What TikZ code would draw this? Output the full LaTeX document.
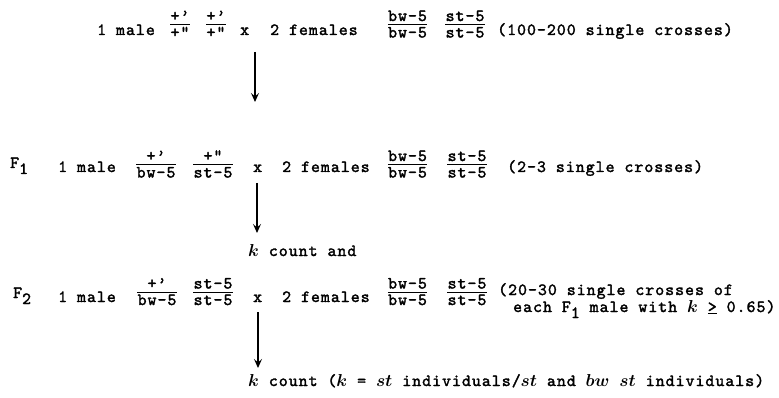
\documentclass[tikz,border=0pt]{standalone}
\usepackage{fontspec}
\setmainfont{lmmono10-regular}[Extension=.otf, LetterSpace=6, FakeBold=2]
\usetikzlibrary{arrows.meta}
\tikzset{
  txt/.style={inner sep=0pt, anchor=base west, font=\fontsize{17}{20}\selectfont\boldmath},
  fr/.style={inner sep=0pt, anchor=base, text height=9pt, text depth=1pt,
    font=\fontsize{17}{20}\selectfont},
  frline/.style={line width=0.9pt},
  flow/.style={line width=1.4pt, -{Stealth[length=9pt,width=8pt,inset=3.5pt]}}
}
\begin{document}
\begin{tikzpicture}[x=1pt,y=-1pt]
\path[use as bounding box] (0,0) rectangle (779,398);
% ---------- Row 1 ----------
\node[txt] (r1male) at (97,35) {1 male};
\node[fr] (r1an) at (180,21) {+'};
\node[fr] (r1ad) at (180,37.5) {+''};
\node[fr] (r1bn) at (216,21) {+'};
\node[fr] (r1bd) at (216,37.5) {+''};
\node[txt] (r1x) at (240,35) {x};
\node[txt] (r1fem) at (270,35) {2 females};
\node[fr] (r1cn) at (407.5,21) {bw-5};
\node[fr] (r1cd) at (407.5,37.5) {bw-5};
\node[fr] (r1dn) at (465,21) {st-5};
\node[fr] (r1dd) at (465,37.5) {st-5};
\node[txt] (r1note) at (497,35) {(100-200 single crosses)};
\foreach \d in {r1ad,r1bd,r1cd,r1dd}
  \draw[frline] (\d.west |- 0,24.5) -- (\d.east |- 0,24.5);
% ---------- Row 2 ----------
\node[txt] (r2gen) at (10,168) {F\raisebox{-6pt}{1}};
\node[txt] (r2male) at (58,172) {1 male};
\node[fr] (r2an) at (156,161) {+'};
\node[fr] (r2ad) at (156,177.5) {bw-5};
\node[fr] (r2bn) at (213,161) {+''};
\node[fr] (r2bd) at (213,177.5) {st-5};
\node[txt] (r2x) at (253,172) {x};
\node[txt] (r2fem) at (282,172) {2 females};
\node[fr] (r2cn) at (407.5,161) {bw-5};
\node[fr] (r2cd) at (407.5,177.5) {bw-5};
\node[fr] (r2dn) at (467,161) {st-5};
\node[fr] (r2dd) at (467,177.5) {st-5};
\node[txt] (r2note) at (507,172) {(2-3 single crosses)};
\foreach \d in {r2ad,r2bd,r2cd,r2dd}
  \draw[frline] (\d.west |- 0,164) -- (\d.east |- 0,164);
\node[txt] (kcount1) at (248,256) {$k$ count and};
% ---------- Row 3 ----------
\node[txt] (r3gen) at (13,298) {F\raisebox{-6pt}{2}};
\node[txt] (r3male) at (58,302) {1 male};
\node[fr] (r3an) at (157,288.5) {+'};
\node[fr] (r3ad) at (157,305) {bw-5};
\node[fr] (r3bn) at (213,288.5) {st-5};
\node[fr] (r3bd) at (213,305) {st-5};
\node[txt] (r3x) at (253,302) {x};
\node[txt] (r3fem) at (282,302) {2 females};
\node[fr] (r3cn) at (407.5,288.5) {bw-5};
\node[fr] (r3cd) at (407.5,305) {bw-5};
\node[fr] (r3dn) at (467,288.5) {st-5};
\node[fr] (r3dd) at (467,305) {st-5};
\node[txt] (r3note) at (498,295) {(20-30 single crosses of};
\node[txt] (r3note2) at (513,312) {each F\raisebox{-6pt}{1} male with $k$ \underline{>} 0.65)};
\foreach \d in {r3ad,r3bd,r3cd,r3dd}
  \draw[frline] (\d.west |- 0,292) -- (\d.east |- 0,292);
\node[txt] (kcount2) at (248,386) {$k$ count ($k$ = $st$ individuals/$st$ and $bw$ $st$ individuals)};
% ---------- Arrows ----------
\coordinate (a1s) at (255,52);  \coordinate (a1e) at (255,102);
\coordinate (a2s) at (257,183); \coordinate (a2e) at (257,233);
\coordinate (a3s) at (258,312); \coordinate (a3e) at (258,368);
\draw[flow] (a1s) -- (a1e);
\draw[flow] (a2s) -- (a2e);
\draw[flow] (a3s) -- (a3e);
\end{tikzpicture}
\end{document}
